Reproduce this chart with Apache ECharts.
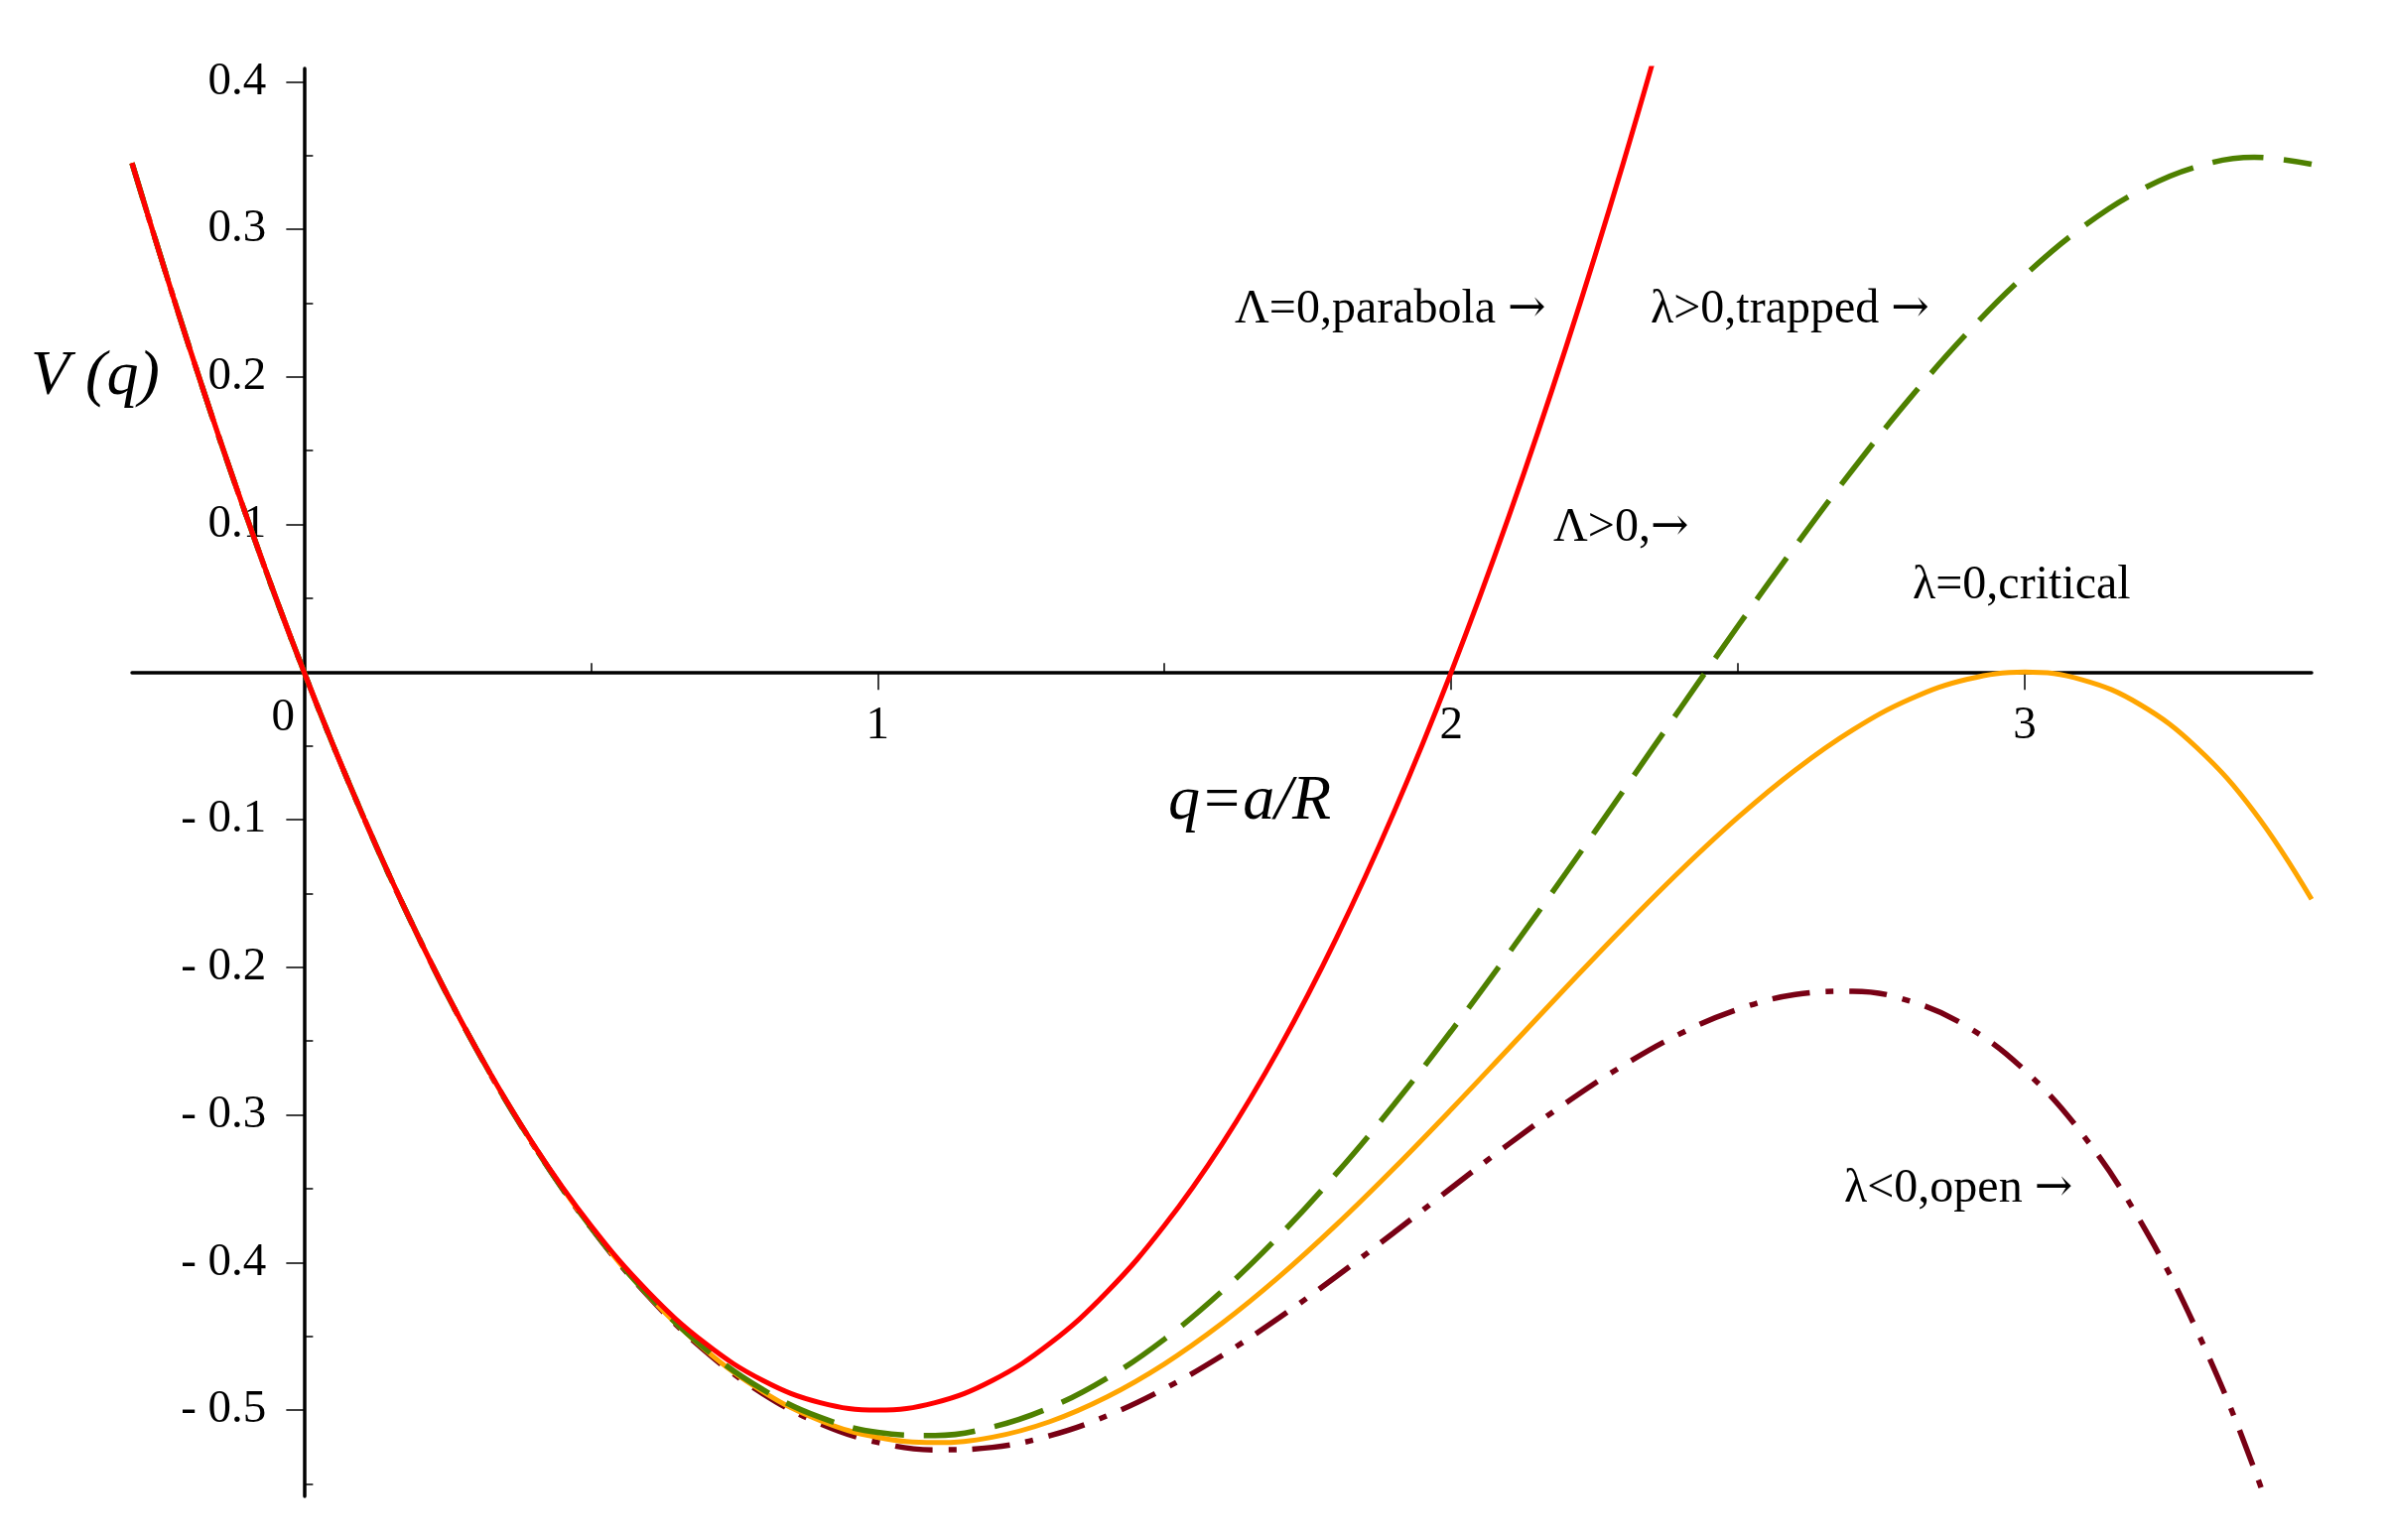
<!DOCTYPE html>
<html style="height: 100%">
  <head>
    <meta charset="utf-8" />
    <title>V(q)</title>
    <script src="https://cdn.jsdelivr.net/npm/echarts@6/dist/echarts.min.js"></script>
  </head>
  <body style="height: 100%; margin: 0; background: #fff">
    <div id="container" style="width: 2408px; height: 1552px"></div>

    <script type="text/javascript">
      // sample points along q (every 0.1)
      var qValues = [-0.3, -0.2, -0.1, 0, 0.1, 0.2, 0.3, 0.4, 0.5, 0.6, 0.7, 0.8, 0.9,
        1.0, 1.1, 1.2, 1.3, 1.4, 1.5, 1.6, 1.7, 1.8, 1.9, 2.0, 2.1, 2.2, 2.3, 2.4,
        2.5, 2.6, 2.7, 2.8, 2.9, 3.0, 3.1, 3.2, 3.3, 3.4, 3.5];

      // Λ=0, parabola (runs off the top after q=2.4)
      var parabolaV = [0.345, 0.22, 0.105, 0, -0.095, -0.18, -0.255, -0.32, -0.375, -0.42,
        -0.455, -0.48, -0.495, -0.5, -0.495, -0.48, -0.455, -0.42, -0.375, -0.32,
        -0.255, -0.18, -0.095, 0, 0.105, 0.22, 0.345, 0.48];

      // λ>0, trapped (dashed green)
      var trappedV = [0.3449, 0.22, 0.105, 0, -0.095, -0.18, -0.2551, -0.3204, -0.376, -0.422,
        -0.4587, -0.4862, -0.505, -0.5152, -0.5173, -0.5115, -0.4984, -0.4784, -0.452, -0.4196,
        -0.382, -0.3396, -0.2931, -0.2432, -0.1906, -0.1361, -0.0804, -0.0243, 0.0313, 0.0854,
        0.1372, 0.1857, 0.2299, 0.2688, 0.3013, 0.3262, 0.3424, 0.3488, 0.3441];

      // λ=0, critical (orange)
      var criticalV = [0.3449, 0.22, 0.105, 0, -0.095, -0.18, -0.2552, -0.3205, -0.3762, -0.4224,
        -0.4594, -0.4876, -0.5072, -0.5185, -0.5221, -0.5184, -0.5079, -0.4911, -0.4688, -0.4414,
        -0.4097, -0.3744, -0.3363, -0.2963, -0.2551, -0.2138, -0.1732, -0.1344, -0.0984, -0.0663,
        -0.0392, -0.0183, -0.0048, 0, -0.0052, -0.0218, -0.0512, -0.0947, -0.1539];

      // λ<0, open (dash-dot dark red)
      var openV = [0.3448, 0.22, 0.105, 0, -0.095, -0.18, -0.2552, -0.3206, -0.3764, -0.4228,
        -0.4602, -0.489, -0.5093, -0.5219, -0.527, -0.5253, -0.5174, -0.5039, -0.4856, -0.4632,
        -0.4375, -0.4094, -0.3798, -0.3496, -0.3199, -0.2919, -0.2665, -0.2449, -0.2285, -0.2185,
        -0.2162, -0.223, -0.2404, -0.2699, -0.3129, -0.3711, -0.4462, -0.5399, -0.6539];

      var xMajorTicks = [0, 1, 2, 3];
      var xTickLabels = [1, 2, 3];
      var xMinorTicks = [0.5, 1.5, 2.5];
      var yMajorTicks = [-0.5, -0.4, -0.3, -0.2, -0.1, 0, 0.1, 0.2, 0.3, 0.4];
      var yTickLabels = [-0.5, -0.4, -0.3, -0.2, -0.1, 0.1, 0.2, 0.3, 0.4];
      var yMinorTicks = [-0.55, -0.45, -0.35, -0.25, -0.15, -0.05, 0.05, 0.15, 0.25, 0.35];

      function pairs(vals) {
        return vals.map(function (v, i) { return [qValues[i], v]; });
      }

      var serif = '"Liberation Serif", "Times New Roman", serif';
      var X_MIN = -0.3, X_MAX = 3.5, Y_MIN = -0.5585, Y_MAX = 0.409;

      var dom = document.getElementById("container");
      var myChart = echarts.init(dom, null, { renderer: 'canvas' });

      function tickAxis(isX, values, len, withLine) {
        return {
          type: 'value',
          min: isX ? X_MIN : Y_MIN,
          max: isX ? X_MAX : Y_MAX,
          splitLine: { show: false },
          axisLine: { show: withLine, onZero: true, lineStyle: { color: '#000', width: 3.5 } },
          axisTick: { show: true, customValues: values, length: len, lineStyle: { color: '#000', width: 1.5 } },
          axisLabel: { show: false }
        };
      }

      myChart.setOption({
        backgroundColor: '#ffffff',
        animation: false,
        grid: { left: 133, right: 79, top: 69, bottom: 44, containLabel: false, outerBoundsMode: 'none' },
        xAxis: [tickAxis(true, xMajorTicks, 18, true), tickAxis(true, xMinorTicks, 9, false)],
        yAxis: [tickAxis(false, yMajorTicks, 18, true), tickAxis(false, yMinorTicks, 9, false)],
        series: [
          {
            name: 'open',
            type: 'line',
            data: pairs(openV),
            smooth: 0.4,
            showSymbol: false,
            silent: true,
            lineStyle: { color: '#780014', width: 5.5, type: [38, 16, 8, 16], cap: 'butt' }
          },
          {
            name: 'critical',
            type: 'line',
            data: pairs(criticalV),
            smooth: 0.4,
            showSymbol: false,
            silent: true,
            lineStyle: { color: '#ffa500', width: 5 }
          },
          {
            name: 'trapped',
            type: 'line',
            data: pairs(trappedV),
            smooth: 0.4,
            showSymbol: false,
            silent: true,
            lineStyle: { color: '#4e8000', width: 5.5, type: [52, 20], cap: 'butt' }
          },
          {
            name: 'parabola',
            type: 'line',
            data: pairs(parabolaV),
            smooth: 0.4,
            showSymbol: false,
            silent: true,
            lineStyle: { color: '#ff0000', width: 5 }
          }
        ]
      });

      // tick labels sit next to the axes that cross at the origin
      var origin = myChart.convertToPixel({ xAxisIndex: 0, yAxisIndex: 0 }, [0, 0]);
      var texts = [];
      var arrowRich = { a: { font: '46px "DejaVu Serif", serif', fill: '#000' } };
      function label(x, y, text, font, align) {
        texts.push({
          type: 'text', x: x, y: y, silent: true,
          style: {
            text: text, font: font, fill: '#000', align: align || 'left', verticalAlign: 'middle',
            rich: arrowRich
          }
        });
      }
      xTickLabels.forEach(function (v) {
        var px = myChart.convertToPixel({ xAxisIndex: 0 }, v);
        label(px, origin[1] + 54, String(v), '47px ' + serif, 'center');
      });
      yTickLabels.forEach(function (v) {
        var py = myChart.convertToPixel({ yAxisIndex: 0 }, v);
        label(origin[0] - 38, py, v < 0 ? '- ' + Math.abs(v) : String(v), '47px ' + serif, 'right');
      });
      label(origin[0] - 21, origin[1] + 46, '0', '47px ' + serif, 'center');

      label(31, 380, 'V (q)', 'italic 64px ' + serif);
      label(1177, 808, 'q=a/R', 'italic 64px ' + serif);
      label(1244, 312, 'Λ=0,parabola {a|→}', '48px ' + serif);
      label(1663, 312, 'λ>0,trapped {a|→}', '48px ' + serif);
      label(1565, 532, 'Λ>0,{a|→}', '48px ' + serif);
      label(1927, 590, 'λ=0,critical', '48px ' + serif);
      label(1858, 1198, 'λ<0,open {a|→}', '48px ' + serif);

      myChart.setOption({ graphic: texts });
    </script>
  </body>
</html>
